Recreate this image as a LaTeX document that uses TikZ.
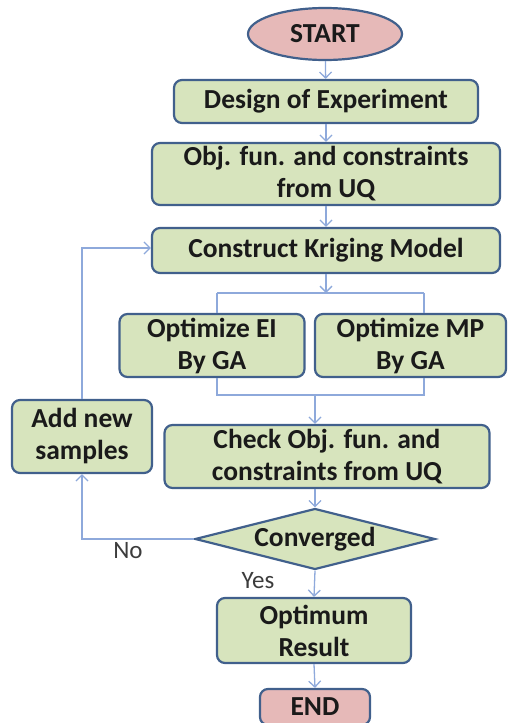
\documentclass[tikz,border=0pt]{standalone}
\usepackage{fontspec}
\setmainfont{Carlito}
\usetikzlibrary{shapes.geometric,arrows.meta}
\definecolor{boxfill}{HTML}{D7E4BD}
\definecolor{pinkfill}{HTML}{E6B9B8}
\definecolor{boxline}{HTML}{41608C}
\definecolor{conn}{HTML}{8EA9DB}
\definecolor{txt}{HTML}{1A1A1A}
\definecolor{lbltxt}{HTML}{3C3C3C}
\tikzset{
  proc/.style={draw=boxline, line width=2.2pt, fill=boxfill, rounded corners=8pt,
    inner sep=0pt, align=center, text=txt, font=\fontsize{27.5}{32}\selectfont\bfseries},
  term/.style={proc, fill=pinkfill},
  flow/.style={draw=conn, line width=1.3pt, -{Straight Barb[length=6pt,width=12pt]}},
  link/.style={draw=conn, line width=1.3pt},
  lbl/.style={text=lbltxt, font=\fontsize{25}{28}\selectfont}
}
\begin{document}
\begin{tikzpicture}[x=1pt,y=-1pt]
\useasboundingbox (0,0) rectangle (507,723);
\node[term, ellipse, minimum width=154pt, minimum height=52pt] (start) at (325,34) {START};
\node[proc, minimum width=304pt, minimum height=43pt] (doe) at (326,101.5) {Design of Experiment};
\node[proc, minimum width=348pt, minimum height=62pt] (obj) at (326,174) {Obj. fun. and constraints\\from UQ};
\node[proc, minimum width=348pt, minimum height=45pt] (krig) at (326,250.5) {Construct Kriging Model};
\node[proc, minimum width=185pt, minimum height=63pt] (ei) at (212,345.5) {Optimize EI\\By GA};
\node[proc, minimum width=191pt, minimum height=63pt] (mp) at (410.5,345.5) {Optimize MP\\By GA};
\node[proc, minimum width=325pt, minimum height=63pt] (check) at (327,456.5) {Check Obj. fun. and\\constraints from UQ};
\node[proc, minimum width=140pt, minimum height=73pt] (add) at (82,436.5) {Add new\\samples};
\node[proc, diamond, rounded corners=0pt, aspect=3.9, minimum width=240pt, minimum height=61pt] (conv) at (315,539) {Converged};
\node[proc, minimum width=194pt, minimum height=65pt] (opt) at (314,630.5) {Optimum\\Result};
\node[term, minimum width=110pt, minimum height=36pt] (end) at (315,707) {END};
\node[lbl] (no) at (128,551) {No};
\node[lbl] (yes) at (258,581) {Yes};
\coordinate (split) at (326,293);
\coordinate (sl) at (217,293);
\coordinate (sr) at (424,293);
\coordinate (ml) at (217,395);
\coordinate (mr) at (424,395);
\coordinate (merge) at (315,395);
\coordinate (loopb) at (82,539);
\coordinate (loopt) at (82,248);
\draw[flow] (start) -- (doe);
\draw[flow] (doe) -- (obj);
\draw[flow] (obj) -- (krig);
\draw[flow] (krig.south) -- (split);
\draw[link] (sl) -- (sr);
\draw[link] (sl) -- (sl |- ei.north);
\draw[link] (sr) -- (sr |- mp.north);
\draw[link] (ml |- ei.south) -- (ml) -- (mr) -- (mr |- mp.south);
\draw[flow] (merge) -- (merge |- check.north);
\draw[flow] (merge |- check.south) -- (conv.north);
\draw[flow] (conv.south) -- (opt.north);
\draw[flow] (opt.south) -- (end.north);
\draw[flow] (conv.west) -- (loopb) -- (add.south);
\draw[flow] (add.north) -- (loopt) -- (krig.west |- loopt);
\end{tikzpicture}
\end{document}
